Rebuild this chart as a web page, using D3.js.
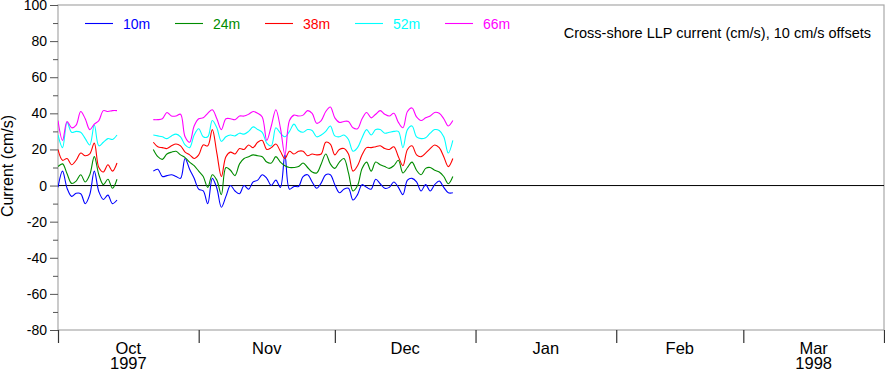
<!DOCTYPE html>
<html><head><meta charset="utf-8">
<script src="https://cdn.jsdelivr.net/npm/d3@7"></script>
<style>body{margin:0;background:#fff}svg{display:block;font-family:"Liberation Sans",Arial,Helvetica,sans-serif}</style>
</head><body><svg id="c" width="885" height="372"></svg>
<script>
// ---- data (daily values from 1997-10-01, null = no data), raw current cm/s before offset ----
const startDate = "1997-10-01";
const depths = ["10m", "24m", "38m", "52m", "66m"];
const offsets = [0, 10, 20, 30, 40];
const gap = [null, null, null, null, null, null, null];
const v10m = [-1, 8, -1.5, -6, -4.3, -4.5, -10, -5, 8, -3.4, -7.7, -5.3, -10, -8, ...gap,
  8, 9, 5, 5.5, 6, 5, 4, 15, 9, 4, -2, -3, -10, 4, -1.5, -12,
  -6, 0, -3, -4.5, 0, -2, 2, 3, 6, 4, 0, 3, -1, 17, -2, -0.5, -0.5,
  5, 6, 2, -1.5, 1.5, 6, 6, 0.5, -4, -2, -1.5, -8, -5, 0.5, -1, -2,
  3.5, 1, -1.5, -1, 2, -1, -5, 3, 4, 2, -3, 0.5, -3, 0.5, 2.5, -1, -4, -4];
const v24m = [0.5, 2, -3.5, -8.8, -7.5, -4, -8, -4, 6, -4, -9.5, -6.5, -11.5, -6.5, ...gap,
  10, 6, 4.5, 7.5, 8.5, 9, 7, 5.5, 3, 1, -2, -5, -11, -4, -7, -15,
  0, -1.5, -4.5, 2, 5, 6, 7, 6.5, 6, 3, 2.5, 6, 3, 1, 0, 0, 0.5,
  2.5, 0, -2.5, -3, 2, 7.5, 2, -0.5, 3, 5, -3, -13, -10, -0.5, 3, -2,
  3, 1.5, 0.5, -0.5, 1, 4, -3, 0, 3, -1.5, -4, -0.5, 0, -1.5, -2.5, -5, -9, -5];
const v38m = [0, -6, -5, -8.5, -6, -2, -3.5, -2.5, 3.5, -10, -12.5, -8.5, -12, -7.5, ...gap,
  4, 1.5, 1, 0.5, 2, 3, 2, -1.5, -3, -5, -3, 2.5, 2, 11, -2, -15,
  -4, -1.5, -2.5, 0.5, 0, 2.5, 1, 4, 5, 0, 1, 3, -1, -5, -1, -2.5, -1,
  -1, -3.5, -2.5, -3, -2.5, 4, 3, -3, 0, 0.5, -2.5, -12, -9, -3, 1, 1,
  1.5, 2, 0.5, 0, 1.5, -4, -9, 0, 2, -3, -4, -2, 0.5, 2.5, 1, -4, -9.5, -5];
const v52m = [-2, -9, 5, -0.5, 0, -0.5, -4, -7.5, 3.5, -8, -6, -4, -4.5, -2, ...gap,
  -2, -2.5, -3, -4, -2.5, -1.5, -3, -7.5, -9, -2, 1.5, -3, -3, 6, 2, -5.5,
  -3, -2, -2.5, -1, -1.5, 0, 2.5, 1, -0.5, -6.5, -8, 2, -1, -3, 0, 4, 0.5,
  -0.5, 1, 0.5, -3, -2, 0, 3, -2.5, -3, -2, -4.5, -11, -9, -3.5, 1, -2,
  1, 1, -1, -0.5, 0, 0, -9, 1, 3, -3, -4, -3.5, -1, 1, 0.5, -3, -12, -5];
const v66m = [-4, -15, -4.5, -8, -6.5, 1, -3, -9, -6, -4, 1.5, 1, 1.5, 1.5, ...gap,
  -3.5, -3.5, -3, 0.5, -1.5, -1.5, -0.5, -13, -16, -7, -3, -2.5, 0, 2, -3, -9,
  -3, -3, -3.5, -1.5, -1.5, -0.5, 1, 0, -2, -15, -7, 2, -8, -23, -4, -1, -1.5,
  -1, 1.5, 0, -5.5, -4, 1, 3.5, -2.5, -5, -4.5, -4.5, -8, -8.5, -3, 0.5, -2.5,
  -0.5, 1.5, -0.5, -1.5, 0, -5, -8, 1, 3, -2, -4, -2.5, -1.5, 0.5, 0, -3, -7, -4];
const seriesValues = [v10m, v24m, v38m, v52m, v66m];
const yTicks = [-80, -60, -40, -20, 0, 20, 40, 60, 80, 100];
const monthLabels = ["Oct", "Nov", "Dec", "Jan", "Feb", "Mar"];
const yearLabels = ["1997", "", "", "", "", "1998"];
const title = "Cross-shore LLP current (cm/s), 10 cm/s offsets";
const yTitle = "Current (cm/s)";

// ---- drawing ----
const colors = ["#0000ff", "#008c00", "#ff0000", "#00ffff", "#ff00ff"];
const svg = d3.select("#c");
const L = 58, R = 884, T = 5, B = 330;
const t0 = d3.utcParse("%Y-%m-%d")(startDate);
const x = d3.scaleUtc().domain([t0, new Date(Date.UTC(1998, 3, 1))]).range([L, R]);
const y = d3.scaleLinear().domain([-80, 100]).range([B, T]);

svg.append("defs").append("clipPath").attr("id", "pc")
  .append("rect").attr("x", L).attr("y", T).attr("width", R - L).attr("height", B - T);

// frame
svg.append("rect").attr("x", L).attr("y", T).attr("width", R - L).attr("height", B - T)
  .attr("fill", "none").attr("stroke", "#a8a8a8").attr("stroke-width", 1.2);

// y axis major / minor
const yax = svg.append("g").attr("transform", `translate(${L},0)`)
  .call(d3.axisLeft(y).tickValues(yTicks).tickSize(8).tickPadding(3).tickFormat(d => String(d)));
yax.select(".domain").remove();
yax.selectAll("line").attr("stroke", "#555");
yax.selectAll("text").attr("font-size", 14).attr("fill", "#000").attr("font-family", "Liberation Sans, Arial, sans-serif");
const yminor = svg.append("g").attr("transform", `translate(${L},0)`)
  .call(d3.axisLeft(y).tickValues(yTicks.slice(0, -1).map(v => v + 10)).tickSize(5).tickFormat(""));
yminor.select(".domain").remove();
yminor.selectAll("line").attr("stroke", "#555");

// x axis month ticks
const monthStarts = d3.utcMonth.range(t0, new Date(Date.UTC(1998, 3, 2)));
const xax = svg.append("g").attr("transform", `translate(0,${B})`)
  .call(d3.axisBottom(x).tickValues(monthStarts).tickSize(13).tickFormat(""));
xax.select(".domain").remove();
xax.selectAll("line").attr("stroke", "#333").attr("stroke-width", 1.2);
const mids = monthStarts.slice(0, -1).map((d, i) => new Date((+d + +monthStarts[i + 1]) / 2));
const ml = svg.append("g").attr("font-size", 16.5).attr("text-anchor", "middle");
mids.forEach((d, i) => {
  ml.append("text").attr("x", x(d)).attr("y", 353.5).text(monthLabels[i]);
  if (yearLabels[i]) ml.append("text").attr("x", x(d)).attr("y", 368.5).text(yearLabels[i]);
});

// zero line
svg.append("line").attr("x1", L).attr("x2", R).attr("y1", y(0)).attr("y2", y(0))
  .attr("stroke", "#000").attr("stroke-width", 1);

// series
const line = d3.line().defined(d => d.v != null)
  .x(d => x(d.t)).y(d => y(d.v)).curve(d3.curveCatmullRom.alpha(0.5));
const g = svg.append("g").attr("clip-path", "url(#pc)");
seriesValues.forEach((vals, k) => {
  const pts = vals.map((v, i) => ({ t: d3.utcDay.offset(t0, i), v: v == null ? null : v + offsets[k] }));
  g.append("path").datum(pts).attr("d", line).attr("fill", "none")
    .attr("stroke", colors[k]).attr("stroke-width", 1.1);
});

// legend
depths.forEach((name, i) => {
  const lx = 85 + 90 * i;
  svg.append("line").attr("x1", lx).attr("x2", lx + 28).attr("y1", 23.5).attr("y2", 23.5)
    .attr("stroke", colors[i]).attr("stroke-width", 1.1);
  svg.append("text").attr("x", lx + 38).attr("y", 29).attr("font-size", 14)
    .attr("fill", colors[i]).text(name);
});

// title
svg.append("text").attr("x", 871).attr("y", 38).attr("text-anchor", "end")
  .attr("font-size", 14.5).text(title);

// y title
svg.append("text").attr("transform", "translate(13,166) rotate(-90)")
  .attr("text-anchor", "middle").attr("font-size", 16).text(yTitle);
</script></body></html>
